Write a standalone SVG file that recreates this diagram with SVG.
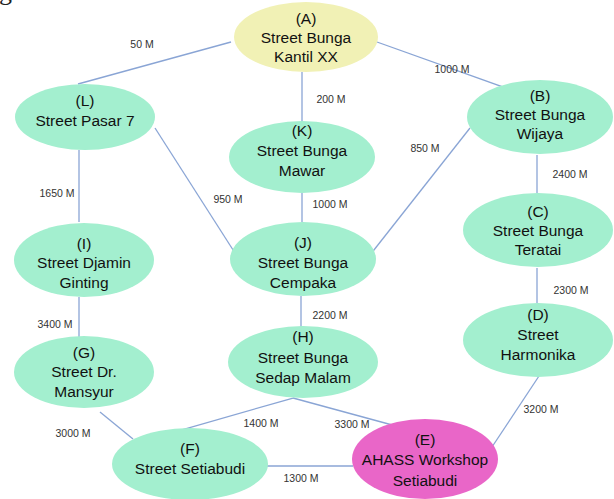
<svg xmlns="http://www.w3.org/2000/svg" width="614" height="499" viewBox="0 0 614 499">
<style>
.n{fill:#a3efcf;}
.a{fill:#f1f1b5;}
.e{fill:#e966c8;}
.t{font-family:"Liberation Sans",Arial,sans-serif;font-size:15.5px;fill:#111;text-anchor:middle;}
.l{font-family:"Liberation Sans",Arial,sans-serif;font-size:10.5px;fill:#333;text-anchor:middle;}
.c line{stroke:#8aa5d5;stroke-width:1.3;}
</style>
<rect width="614" height="499" fill="#ffffff"/>
<text x="-1" y="0" font-family="'Liberation Serif',serif" font-size="26" fill="#222">g</text>
<g id="connectors" class="c">
<line x1="231" y1="42" x2="78" y2="84"/>
<line x1="377" y1="42" x2="517" y2="92"/>
<line x1="302" y1="72" x2="302" y2="121"/>
<line x1="79" y1="150" x2="79" y2="222"/>
<line x1="155" y1="128" x2="235" y2="253"/>
<line x1="302" y1="193" x2="302" y2="222"/>
<line x1="470" y1="128" x2="370" y2="255"/>
<line x1="537" y1="155" x2="537" y2="193"/>
<line x1="537" y1="268" x2="537" y2="303"/>
<line x1="79" y1="297" x2="79" y2="338"/>
<line x1="301" y1="296" x2="301" y2="328"/>
<line x1="100" y1="412" x2="133" y2="439"/>
<line x1="293" y1="398" x2="181" y2="430"/>
<line x1="293" y1="398" x2="418" y2="432"/>
<line x1="541" y1="373" x2="490" y2="450"/>
<line x1="251" y1="466" x2="353" y2="466"/>
</g>
<g id="labels">
<text class="l" x="142" y="48">50 M</text>
<text class="l" x="452" y="73">1000 M</text>
<text class="l" x="331" y="103">200 M</text>
<text class="l" x="425" y="152">850 M</text>
<text class="l" x="570" y="178">2400 M</text>
<text class="l" x="57" y="197">1650 M</text>
<text class="l" x="228" y="203">950 M</text>
<text class="l" x="330" y="208">1000 M</text>
<text class="l" x="571" y="294">2300 M</text>
<text class="l" x="330" y="319">2200 M</text>
<text class="l" x="55" y="328">3400 M</text>
<text class="l" x="541" y="413">3200 M</text>
<text class="l" x="73" y="437">3000 M</text>
<text class="l" x="261" y="427">1400 M</text>
<text class="l" x="352" y="428">3300 M</text>
<text class="l" x="301" y="482">1300 M</text>
</g>
<g id="nodeA"><ellipse class="a" cx="306" cy="37" rx="72" ry="35"/><text class="t" x="306" y="24">(A)</text><text class="t" x="306" y="43">Street Bunga</text><text class="t" x="306" y="62">Kantil XX</text></g>
<g id="nodeL"><ellipse class="n" cx="85" cy="117" rx="70" ry="33"/><text class="t" x="85" y="106">(L)</text><text class="t" x="85" y="126">Street Pasar 7</text></g>
<g id="nodeK"><ellipse class="n" cx="302" cy="157" rx="73" ry="36"/><text class="t" x="302" y="136">(K)</text><text class="t" x="302" y="156">Street Bunga</text><text class="t" x="302" y="176">Mawar</text></g>
<g id="nodeB"><ellipse class="n" cx="540" cy="117" rx="73" ry="37"/><text class="t" x="540" y="101">(B)</text><text class="t" x="540" y="120">Street Bunga</text><text class="t" x="540" y="139">Wijaya</text></g>
<g id="nodeC"><ellipse class="n" cx="538" cy="230" rx="75" ry="37"/><text class="t" x="538" y="217">(C)</text><text class="t" x="538" y="236">Street Bunga</text><text class="t" x="538" y="255">Teratai</text></g>
<g id="nodeI"><ellipse class="n" cx="84" cy="260" rx="70" ry="37"/><text class="t" x="84" y="249">(I)</text><text class="t" x="84" y="268">Street Djamin</text><text class="t" x="84" y="288">Ginting</text></g>
<g id="nodeJ"><ellipse class="n" cx="303" cy="259" rx="73" ry="37"/><text class="t" x="303" y="248">(J)</text><text class="t" x="303" y="268">Street Bunga</text><text class="t" x="303" y="288">Cempaka</text></g>
<g id="nodeD"><ellipse class="n" cx="538" cy="340" rx="75" ry="37"/><text class="t" x="538" y="320">(D)</text><text class="t" x="538" y="340">Street</text><text class="t" x="538" y="360">Harmonika</text></g>
<g id="nodeG"><ellipse class="n" cx="84" cy="372" rx="70" ry="36"/><text class="t" x="84" y="358">(G)</text><text class="t" x="84" y="377">Street Dr.</text><text class="t" x="84" y="397">Mansyur</text></g>
<g id="nodeH"><ellipse class="n" cx="303" cy="362" rx="75" ry="36"/><text class="t" x="303" y="342">(H)</text><text class="t" x="303" y="363">Street Bunga</text><text class="t" x="303" y="383">Sedap Malam</text></g>
<g id="nodeF"><ellipse class="n" cx="190" cy="464" rx="78" ry="36"/><text class="t" x="190" y="454">(F)</text><text class="t" x="190" y="474">Street Setiabudi</text></g>
<g id="nodeE"><ellipse class="e" cx="425" cy="459" rx="73" ry="40"/><text class="t" x="425" y="445">(E)</text><text class="t" x="425" y="465">AHASS Workshop</text><text class="t" x="425" y="486">Setiabudi</text></g>
</svg>
